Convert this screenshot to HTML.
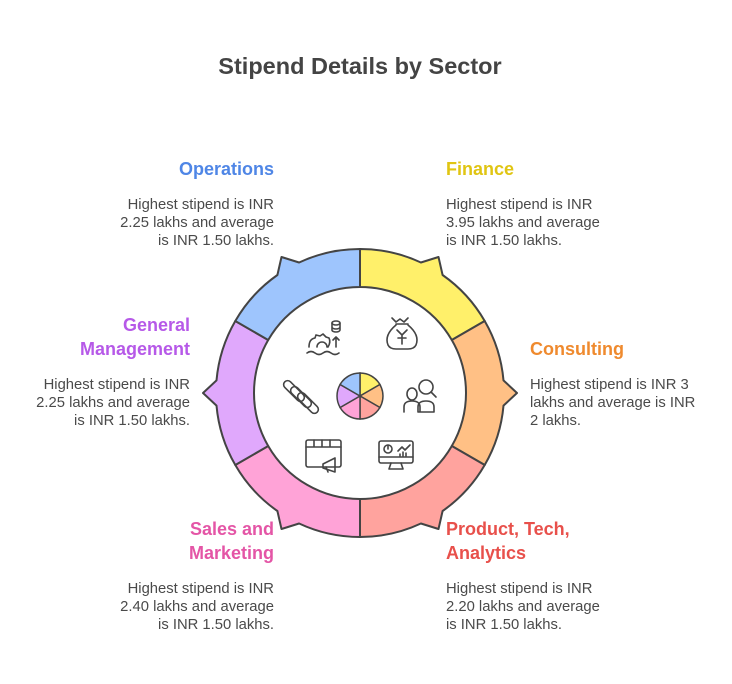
<!DOCTYPE html>
<html><head><meta charset="utf-8"><style>
body{margin:0;background:#fff;}
svg{display:block;font-family:"Liberation Sans",Arial,sans-serif;}
.b{font-size:14.8px;fill:#4a4a4a;}
.h{font-size:18px;font-weight:bold;}
</style></head><body>
<svg width="732" height="684" viewBox="0 0 732 684" xmlns="http://www.w3.org/2000/svg">
<rect width="732" height="684" fill="#fff"/>
<text x="360" y="74" text-anchor="middle" font-size="23.5" font-weight="bold" fill="#444">Stipend Details by Sector</text>
<g stroke="#444" stroke-width="2" stroke-linejoin="round">
<path fill="#fff06a" d="M360,249 A144,144 0 0 1 420.9,262.5 L438.5,257 L442.6,275 A144,144 0 0 1 484.7,321 L451.8,340 A106,106 0 0 0 360,287 Z"/>
<path fill="#ffc085" d="M484.7,321 A144,144 0 0 1 503.5,380.4 L517,393 L503.5,405.6 A144,144 0 0 1 484.7,465 L451.8,446 A106,106 0 0 0 451.8,340 Z"/>
<path fill="#ffa39e" d="M484.7,465 A144,144 0 0 1 442.6,511 L438.5,529 L420.9,523.5 A144,144 0 0 1 360,537 L360,499 A106,106 0 0 0 451.8,446 Z"/>
<path fill="#ffa3d7" d="M360,537 A144,144 0 0 1 299.1,523.5 L281.5,529 L277.4,511 A144,144 0 0 1 235.3,465 L268.2,446 A106,106 0 0 0 360,499 Z"/>
<path fill="#e0a8fc" d="M235.3,465 A144,144 0 0 1 216.5,405.6 L203,393 L216.5,380.4 A144,144 0 0 1 235.3,321 L268.2,340 A106,106 0 0 0 268.2,446 Z"/>
<path fill="#9ec5fd" d="M235.3,321 A144,144 0 0 1 277.4,275 L281.5,257 L299.1,262.5 A144,144 0 0 1 360,249 L360,287 A106,106 0 0 0 268.2,340 Z"/>
</g>
<g stroke="#444" stroke-width="1.5">
<path fill="#fff06a" d="M360,396 L360,373 A23,23 0 0 1 379.9,384.5 Z"/>
<path fill="#ffc085" d="M360,396 L379.9,384.5 A23,23 0 0 1 379.9,407.5 Z"/>
<path fill="#ffa39e" d="M360,396 L379.9,407.5 A23,23 0 0 1 360,419 Z"/>
<path fill="#ffa3d7" d="M360,396 L360,419 A23,23 0 0 1 340.1,407.5 Z"/>
<path fill="#e0a8fc" d="M360,396 L340.1,407.5 A23,23 0 0 1 340.1,384.5 Z"/>
<path fill="#9ec5fd" d="M360,396 L340.1,384.5 A23,23 0 0 1 360,373 Z"/>
</g>
<g fill="none" stroke="#444" stroke-width="1.6" stroke-linecap="round" stroke-linejoin="round">
<path d="M307,353 q4,-3 8,0 q4,3 8,0 q4,-3 8,0 q4,3 8,0"/>
<path d="M309,347 q0,-8 6,-9 l1,-3 l4,1 l3,-2 l3,3 l3,1 q2,4 -1,9 M317,347 a5,5 0 0 1 10,0"/>
<path d="M336,347 v-10 M333,340 l3,-3 l3,3"/>
<ellipse cx="336" cy="323" rx="4" ry="2"/><path d="M332,323 v7 a4,2 0 0 0 8,0 v-7 M332,327 a4,2 0 0 0 8,0"/>
<path d="M392,318 l4,4 l4,-3 l4,3 l4,-4 M396,324 h12 M396,325 q-12,10 -8,20 q2,4 8,4 h12 q6,0 8,-4 q4,-10 -8,-20"/>
<path d="M397,330 l5,5 l5,-5 M402,335 v9 M398,338 h8"/>
<circle cx="426" cy="387" r="7"/><path d="M431,392 l5,5 M418,412 v-5 q0,-6 8,-6 q8,0 8,6 v5 Z M404,412 v-5 q0,-6 8,-6 q8,0 8,6 v5 M407,394 a5,6 0 1 1 10,0 a5,6 0 1 1 -10,0"/>
<rect x="379" y="441" width="34" height="22" rx="2"/><path d="M379,457 h34 M391,463 l-2,6 h14 l-2,-6"/>
<circle cx="388" cy="449" r="4"/><path d="M388,449 v-4 M398,451 l4,-4 l3,3 l5,-5 M400,456 v-2 M403,456 v-4 M406,456 v-3"/>
<rect x="306" y="440" width="35" height="27" rx="2"/><path d="M306,447 h35 M314,440 v7 M322,440 v7 M330,440 v7"/>
<path d="M323,464 l12,-6 v14 l-12,-4 Z M326,467 l2,5"/>
<rect x="290" y="378" width="8" height="26" rx="4" transform="rotate(-45 294 391)"/>
<rect x="297" y="384" width="8" height="26" rx="4" transform="rotate(-45 301 397)"/>
<rect x="304" y="390" width="8" height="26" rx="4" transform="rotate(-45 308 403)"/>
</g>
<g class="b">
<text class="h" x="274" y="175" text-anchor="end" fill="#4f86e6">Operations</text>
<text x="274" y="209" text-anchor="end">Highest stipend is INR</text>
<text x="274" y="227" text-anchor="end">2.25 lakhs and average</text>
<text x="274" y="245" text-anchor="end">is INR 1.50 lakhs.</text>
<text class="h" x="446" y="175" fill="#e0c513">Finance</text>
<text x="446" y="209">Highest stipend is INR</text>
<text x="446" y="227">3.95 lakhs and average</text>
<text x="446" y="245">is INR 1.50 lakhs.</text>
<text class="h" x="190" y="331" text-anchor="end" fill="#b659e8">General</text>
<text class="h" x="190" y="355" text-anchor="end" fill="#b659e8">Management</text>
<text x="190" y="389" text-anchor="end">Highest stipend is INR</text>
<text x="190" y="407" text-anchor="end">2.25 lakhs and average</text>
<text x="190" y="425" text-anchor="end">is INR 1.50 lakhs.</text>
<text class="h" x="530" y="355" fill="#ef8a2e">Consulting</text>
<text x="530" y="389">Highest stipend is INR 3</text>
<text x="530" y="407">lakhs and average is INR</text>
<text x="530" y="425">2 lakhs.</text>
<text class="h" x="274" y="535" text-anchor="end" fill="#e455a6">Sales and</text>
<text class="h" x="274" y="559" text-anchor="end" fill="#e455a6">Marketing</text>
<text x="274" y="593" text-anchor="end">Highest stipend is INR</text>
<text x="274" y="611" text-anchor="end">2.40 lakhs and average</text>
<text x="274" y="629" text-anchor="end">is INR 1.50 lakhs.</text>
<text class="h" x="446" y="535" fill="#e8504b">Product, Tech,</text>
<text class="h" x="446" y="559" fill="#e8504b">Analytics</text>
<text x="446" y="593">Highest stipend is INR</text>
<text x="446" y="611">2.20 lakhs and average</text>
<text x="446" y="629">is INR 1.50 lakhs.</text>
</g>
</svg>
</body></html>
